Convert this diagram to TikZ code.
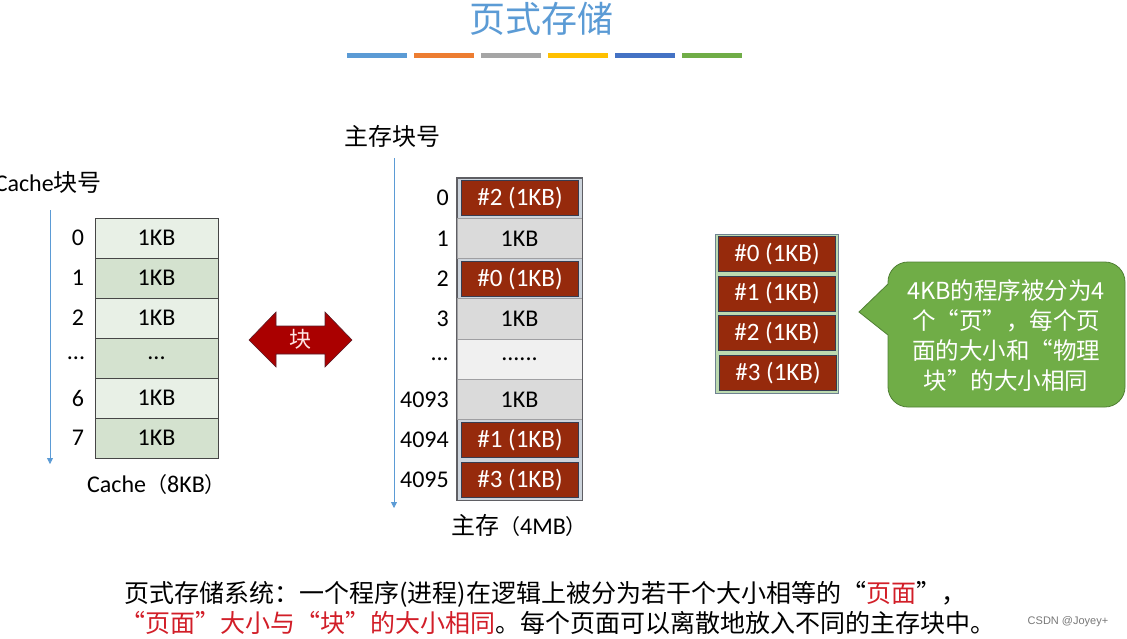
\documentclass[tikz,border=0pt]{standalone}
\usepackage{fontspec}
\setmainfont{Carlito}
\newfontfamily\cjk{Noto Sans CJK SC}
\newfontfamily\cjkfw[CharacterWidth=Full]{Noto Sans CJK SC}
\newfontfamily\wmfont{Liberation Sans}
\usetikzlibrary{arrows.meta}
\newcommand\fsz[1]{\fontsize{#1}{#1}\selectfont}
\newcommand\ql{{\cjkfw “}}
\newcommand\qr{{\cjkfw ”}}
\definecolor{titleblue}{RGB}{91,155,213}
\definecolor{barA}{RGB}{91,155,213}
\definecolor{barB}{RGB}{237,125,49}
\definecolor{barC}{RGB}{165,165,165}
\definecolor{barD}{RGB}{255,192,0}
\definecolor{barE}{RGB}{68,114,196}
\definecolor{barF}{RGB}{112,173,71}
\definecolor{cacheL}{RGB}{232,240,230}
\definecolor{cacheD}{RGB}{212,226,207}
\definecolor{cacheborder}{RGB}{70,70,70}
\definecolor{memgray}{RGB}{218,218,218}
\definecolor{memlight}{RGB}{240,240,240}
\definecolor{memframe}{RGB}{95,95,100}
\definecolor{memback}{RGB}{205,212,220}
\definecolor{pagered}{RGB}{150,42,12}
\definecolor{pageborder}{RGB}{55,60,80}
\definecolor{pgback}{RGB}{188,218,176}
\definecolor{pgframe}{RGB}{110,130,145}
\definecolor{arrowred}{RGB}{170,0,0}
\definecolor{arrowborder}{RGB}{90,30,40}
\definecolor{bubblegreen}{RGB}{112,173,71}
\definecolor{bubbleborder}{RGB}{80,128,52}
\definecolor{hired}{RGB}{210,30,40}
\definecolor{wmgray}{RGB}{120,120,120}
\tikzset{
  bar/.style={line width=5pt},
  axis/.style={draw=titleblue, line width=0.8pt, -{Triangle[width=6pt,length=6pt]}},
  cachecell/.style={draw=cacheborder, line width=0.8pt, minimum width=123pt, minimum height=40pt, inner sep=0pt, font=\fsz{24}},
  memcell/.style={draw=memframe!60, line width=0.6pt, minimum width=125pt, minimum height=40.25pt, inner sep=0pt, font=\fsz{24}},
  redcell/.style={draw=pageborder, line width=0.8pt, fill=pagered, text=white, minimum width=117pt, minimum height=35pt, inner sep=0pt, font=\fsz{25}},
  numlab/.style={font=\fsz{24}, inner sep=0pt},
  cjklab/.style={font=\cjk\fsz{24}, inner sep=0pt},
}
\begin{document}
\begin{tikzpicture}[x=1pt,y=-1pt]
\useasboundingbox[fill=white] (0,0) rectangle (1127,638);

% title
\node[font=\cjk\fsz{36}, text=titleblue, anchor=base, inner sep=0pt] (title) at (541,32.5) {页式存储};
\draw[bar, draw=barA] (347,55) -- (407,55);
\draw[bar, draw=barB] (414,55) -- (474,55);
\draw[bar, draw=barC] (481,55) -- (541,55);
\draw[bar, draw=barD] (548,55) -- (608,55);
\draw[bar, draw=barE] (615,55) -- (675,55);
\draw[bar, draw=barF] (682,55) -- (742,55);

% cache
\node[anchor=east, font=\fsz{24}, inner sep=0pt] (cachehdr) at (102,183) {Cache{\cjk 块号}};
\coordinate (ca1) at (50,210);
\coordinate (ca2) at (50,464);
\draw[axis] (ca1) -- (ca2);
\node[cachecell, fill=cacheL] (c0) at (156.5,238) {1KB};
\node[cachecell, fill=cacheD] (c1) at (156.5,278) {1KB};
\node[cachecell, fill=cacheL] (c2) at (156.5,318) {1KB};
\node[cachecell, fill=cacheD] (c3) at (156.5,358) {...};
\node[cachecell, fill=cacheL] (c4) at (156.5,398) {1KB};
\node[cachecell, fill=cacheD] (c5) at (156.5,438) {1KB};
\node[numlab] (cn0) at (78,238) {0};
\node[numlab] (cn1) at (78,278) {1};
\node[numlab] (cn2) at (78,318) {2};
\node[numlab] (cn3) at (76,358) {...};
\node[numlab] (cn4) at (78,398) {6};
\node[numlab] (cn5) at (78,438) {7};
\node[anchor=west, font=\fsz{24}, inner sep=0pt] (cachecap) at (87,485) {Cache{\cjk\fsz{21}（}8KB{\cjk\fsz{21}）}};

% double arrow
\filldraw[fill=arrowred, draw=arrowborder, line width=0.6pt]
  (249,340) -- (276,312) -- (276,326) -- (325,326) -- (325,312) -- (352,340)
  -- (325,367) -- (325,354) -- (276,354) -- (276,367) -- cycle;
\node[font=\cjk\fsz{22}, text=red!10, inner sep=0pt] (blk) at (300.5,339) {块};

% main memory
\node[cjklab] (memhdr) at (392,136) {主存块号};
\coordinate (ma1) at (394,158);
\coordinate (ma2) at (394,508);
\draw[axis] (ma1) -- (ma2);
\node[draw=memframe, line width=1pt, fill=memback, minimum width=125pt, minimum height=322pt, inner sep=0pt] (mframe) at (519.5,339) {};
\node[redcell] (m0) at (520,198.1) {\#2 (1KB)};
\node[memcell, fill=memgray] (m1) at (519.5,238.4) {1KB};
\node[redcell] (m2) at (520,278.6) {\#0 (1KB)};
\node[memcell, fill=memgray] (m3) at (519.5,318.9) {1KB};
\node[memcell, fill=memlight] (m4) at (519.5,359.1) {......};
\node[memcell, fill=memgray] (m5) at (519.5,399.4) {1KB};
\node[redcell] (m6) at (520,439.6) {\#1 (1KB)};
\node[redcell] (m7) at (520,479.9) {\#3 (1KB)};
\draw[draw=memframe, line width=1pt] (mframe.north west) rectangle (mframe.south east);
\node[numlab, anchor=east] (mn0) at (449,198.1) {0};
\node[numlab, anchor=east] (mn1) at (449,238.4) {1};
\node[numlab, anchor=east] (mn2) at (449,278.6) {2};
\node[numlab, anchor=east] (mn3) at (449,318.9) {3};
\node[numlab, anchor=east] (mn4) at (449,359.1) {...};
\node[numlab, anchor=east] (mn5) at (449,399.4) {4093};
\node[numlab, anchor=east] (mn6) at (449,439.6) {4094};
\node[numlab, anchor=east] (mn7) at (449,479.9) {4095};
\node[anchor=west, inner sep=0pt] (memcap) at (451,525) {{\cjk\fsz{24}主存}{\cjk\fsz{21}（}{\fsz{24}4MB}{\cjk\fsz{21}）}};

% pages
\node[draw=pgframe, line width=1pt, fill=pgback, minimum width=123pt, minimum height=159pt, inner sep=0pt] (pframe) at (776.5,313.5) {};
\node[redcell] (p0) at (777,254) {\#0 (1KB)};
\node[redcell] (p1) at (777,293.5) {\#1 (1KB)};
\node[redcell] (p2) at (777,333) {\#2 (1KB)};
\node[redcell] (p3) at (778,373) {\#3 (1KB)};

% bubble
\filldraw[fill=bubblegreen, draw=bubbleborder, line width=0.8pt]
  (859,312) -- (888,284) -- (888,282)
  .. controls (888,271) and (897,262) .. (908,262) -- (1105,262)
  .. controls (1116,262) and (1125,271) .. (1125,282) -- (1125,387)
  .. controls (1125,398) and (1116,407) .. (1105,407) -- (908,407)
  .. controls (897,407) and (888,398) .. (888,387) -- (888,335) -- cycle;
\node[align=center, text=white, font=\cjk\fontsize{23.5}{30}\selectfont, inner sep=0pt] (btext) at (1006,336)
  {4KB的程序被分为4\\个\ql 页\qr ，每个页\\面的大小和\ql 物理\\块\qr 的大小相同};

% description
\node[anchor=base west, font=\cjk\fsz{25}, inner sep=0pt] (d1) at (124,602.5)
  {页式存储系统：一个程序(进程)在逻辑上被分为若干个大小相等的\ql{\color{hired}页面}\qr ，};
\node[anchor=base west, font=\cjk\fsz{25}, inner sep=0pt] (d2) at (120,632.5)
  {{\color{hired}\ql 页面\qr 大小与\ql 块\qr 的大小相同}。每个页面可以离散地放入不同的主存块中。};
\node[font=\wmfont\fsz{11}, text=wmgray, inner sep=0pt] (wm) at (1068,622) {CSDN @Joyey+};
\end{tikzpicture}
\end{document}
